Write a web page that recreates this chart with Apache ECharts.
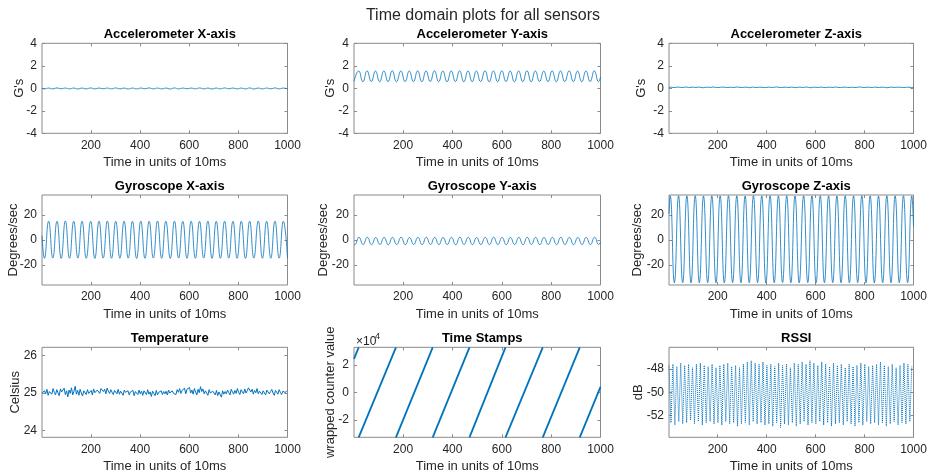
<!DOCTYPE html>
<html>
<head>
<meta charset="utf-8">
<script src="https://cdn.jsdelivr.net/npm/echarts@6/dist/echarts.min.js"></script>
<style>html,body{margin:0;padding:0;background:#fff}#c{width:935px;height:476px}</style>
</head>
<body>
<div id="c"></div>
<script>
// ---------------- DATA ----------------
const xTicks = [200, 400, 600, 800, 1000];
const accelTicks = [-4, -2, 0, 2, 4];
const gyroTicks = [-20, 0, 20];
const tempTicks = [24, 25, 26];
const stampTicks = [-20000, 0, 20000];
const rssiTicks = [-52, -50, -48];

const accelX = [[1,-0.01],[11,-0.05],[28,0.02],[45,-0.05],[62,0.03],[79,-0.04],[96,0.02],[113,-0.05],[130,0.02],[147,-0.06],[164,0.02],[181,-0.05],[199,0.03],[216,-0.05],[233,0.02],[250,-0.04],[267,0.02],[284,-0.05],[301,0.03],[318,-0.05],[335,0.02],[352,-0.06],[369,0.02],[386,-0.05],[403,0.02],[420,-0.04],[437,0.03],[454,-0.05],[471,0.02],[488,-0.05],[505,0.02],[523,-0.06],[540,0.03],[557,-0.05],[574,0.02],[591,-0.04],[608,0.02],[625,-0.05],[642,0.03],[659,-0.05],[676,0.02],[693,-0.06],[710,0.02],[727,-0.05],[744,0.03],[761,-0.04],[778,0.02],[795,-0.05],[812,0.02],[829,-0.05],[846,0.03],[863,-0.06],[881,0.02],[898,-0.05],[915,0.02],[932,-0.04],[949,0.03],[966,-0.05],[983,0.02],[1000,-0.05]];

const accelY = [[1,0.62],[3,0.59],[20,1.54],[37,0.58],[54,1.55],[71,0.6],[88,1.53],[105,0.58],[122,1.54],[139,0.59],[156,1.56],[173,0.58],[191,1.54],[208,0.6],[225,1.53],[242,0.59],[259,1.55],[276,0.58],[293,1.54],[310,0.6],[327,1.55],[344,0.59],[361,1.53],[378,0.58],[395,1.54],[412,0.6],[429,1.55],[446,0.58],[463,1.54],[480,0.59],[497,1.53],[514,0.6],[532,1.55],[549,0.58],[566,1.54],[583,0.59],[600,1.55],[617,0.6],[634,1.53],[651,0.58],[668,1.54],[685,0.59],[702,1.56],[719,0.58],[736,1.54],[753,0.6],[770,1.53],[787,0.59],[804,1.55],[821,0.58],[838,1.54],[855,0.6],[873,1.55],[890,0.59],[907,1.53],[924,0.58],[941,1.54],[958,0.6],[975,1.55],[992,0.59],[1000,1.0]];

const accelZ = [0.08,0.10,0.06,0.09,0.11,0.07,0.08,0.12,0.06,0.09,0.10,0.07,0.11,0.08,0.05,0.09,0.10,0.07,0.12,0.08,0.06,0.09,0.11,0.08,0.07,0.10,0.06,0.09,0.12,0.08,0.07,0.10,0.09,0.05,0.11,0.08,0.07,0.10,0.09,0.06,0.08,0.11,0.07,0.09,0.12,0.08,0.06,0.10,0.09,0.07,0.11,0.08,0.06,0.10,0.09,0.07,0.12,0.08,0.05,0.10,0.09,0.07,0.11,0.08,0.06,0.10,0.09,0.07,0.12,0.08,0.06,0.09,0.11,0.07,0.08,0.10,0.06,0.09,0.12,0.08,0.07,0.10,0.09,0.06,0.11,0.08,0.07,0.10,0.09,0.05,0.08,0.11,0.07,0.09,0.10,0.08,0.06,0.10,0.09,0.07,0.09];

const gyroX = [[1,3.5],[11,-14.6],[28,15.1],[45,-14.5],[62,15.0],[79,-14.7],[96,15.2],[113,-14.6],[130,15.0],[147,-14.5],[164,15.1],[181,-14.6],[199,15.0],[216,-14.7],[233,15.1],[250,-14.5],[267,15.2],[284,-14.6],[301,15.0],[318,-14.6],[335,15.1],[352,-14.5],[369,15.0],[386,-14.7],[403,15.1],[420,-14.6],[437,15.0],[454,-14.5],[471,15.2],[488,-14.6],[505,15.0],[523,-14.7],[540,15.1],[557,-14.5],[574,15.0],[591,-14.6],[608,15.1],[625,-14.6],[642,15.0],[659,-14.5],[676,15.2],[693,-14.7],[710,15.0],[727,-14.6],[744,15.1],[761,-14.5],[778,15.0],[795,-14.6],[812,15.1],[829,-14.7],[846,15.0],[863,-14.5],[881,15.2],[898,-14.6],[915,15.0],[932,-14.6],[949,15.1],[966,-14.5],[983,15.0],[1000,-14.6]];

const gyroY = [[1,-3.3],[4,-3.7],[21,2.1],[38,-3.6],[55,2.2],[72,-3.7],[89,2.0],[106,-3.6],[123,2.1],[140,-3.8],[157,2.1],[174,-3.6],[192,2.2],[209,-3.7],[226,2.0],[243,-3.6],[260,2.1],[277,-3.7],[294,2.2],[311,-3.6],[328,2.1],[345,-3.7],[362,2.0],[379,-3.6],[396,2.1],[413,-3.8],[430,2.2],[447,-3.6],[464,2.1],[481,-3.7],[498,2.0],[515,-3.6],[533,2.1],[550,-3.7],[567,2.2],[584,-3.6],[601,2.1],[618,-3.7],[635,2.0],[652,-3.6],[669,2.1],[686,-3.8],[703,2.2],[720,-3.6],[737,2.1],[754,-3.7],[771,2.0],[788,-3.6],[805,2.1],[822,-3.7],[839,2.2],[856,-3.6],[874,2.1],[891,-3.7],[908,2.0],[925,-3.6],[942,2.1],[959,-3.7],[976,2.2],[993,-3.6],[1000,-1.6]];

const gyroZ = [[1,21],[6,35.3],[23,-34.2],[40,35.4],[57,-34.1],[74,35.3],[91,-34.3],[108,35.4],[125,-34.2],[142,35.2],[159,-34.1],[176,35.4],[193,-34.2],[210,35.3],[227,-34.3],[244,35.4],[261,-34.1],[278,35.3],[295,-34.2],[312,35.2],[329,-34.2],[346,35.4],[363,-34.1],[380,35.3],[397,-34.3],[414,35.4],[431,-34.2],[448,35.3],[465,-34.1],[482,35.4],[499,-34.2],[516,35.2],[533,-34.3],[551,35.4],[568,-34.1],[585,35.3],[602,-34.2],[619,35.4],[636,-34.2],[653,35.3],[670,-34.1],[687,35.2],[704,-34.3],[721,35.4],[738,-34.2],[755,35.3],[772,-34.1],[789,35.4],[806,-34.2],[823,35.3],[840,-34.3],[857,35.2],[874,-34.1],[891,35.4],[908,-34.2],[925,35.3],[942,-34.2],[959,35.4],[976,-34.1],[993,35.3],[1000,11]];

const temperature = [
25.00,24.96,25.06,24.98,25.10,24.94,25.04,25.08,24.97,25.12,
25.02,24.95,25.09,25.01,24.93,25.11,25.03,24.98,25.13,24.96,
25.06,24.90,25.08,24.99,25.14,24.95,25.05,25.18,24.97,25.07,
24.94,25.10,25.00,24.92,25.06,25.02,24.96,25.09,24.99,25.04,
25.07,24.95,25.11,25.01,24.97,25.08,25.03,24.99,25.12,25.16,
25.04,25.10,24.98,25.13,25.05,24.99,25.09,25.02,24.96,25.07,
25.03,24.98,25.10,24.97,25.05,25.01,24.94,25.08,25.02,24.98,
25.06,24.95,25.03,24.99,25.07,24.93,25.04,25.00,24.96,25.08,
24.98,25.05,24.94,25.06,25.01,24.96,25.09,24.97,25.03,24.91,
25.05,24.99,24.93,25.07,24.95,25.02,24.97,25.06,24.96,25.04,
24.98,25.05,24.95,25.08,25.00,24.97,25.06,24.99,25.03,24.96,
25.09,25.02,25.12,24.99,25.07,25.04,25.13,24.98,25.10,25.05,
25.15,25.00,25.08,24.97,25.12,25.03,24.95,25.10,25.01,25.17,
25.04,25.11,24.98,25.06,25.02,24.94,25.09,25.00,24.96,25.05,
25.01,24.95,25.07,24.93,25.03,24.99,24.89,25.06,24.97,25.04,
24.98,25.08,25.01,24.95,25.10,25.03,24.97,25.07,24.99,25.12,
25.02,24.96,25.09,25.04,24.98,25.11,25.00,25.06,25.14,25.19,
25.03,25.10,24.97,25.07,25.01,25.12,24.98,25.05,25.09,24.96,
25.06,25.01,24.95,25.08,25.11,24.98,25.04,25.10,25.00,24.94,
25.07,25.03,24.97,25.09,25.02,24.96,25.05,25.10,25.01,25.06];
const tempStep = 5;

// time stamp counter: wraps from 32767 to -32768
const stampWraps = [20, 171, 320, 469, 615, 766, 916];
const stampFirst = 24400;
const stampLast = 3900;
const stampMin = -32768, stampMax = 32767;

const rssiHigh = [-47.7,-47.6,-47.8,-47.5,-47.7,-47.6,-47.9,-47.6,-47.5,-47.7,
-47.8,-47.6,-47.9,-47.7,-47.6,-47.5,-47.8,-47.7,-47.9,-47.6,
-47.4,-47.3,-47.5,-47.6,-47.4,-47.7,-47.6,-47.8,-47.5,-47.7,
-47.6,-47.9,-47.5,-47.6,-47.4,-47.6,-47.3,-47.5,-47.7,-47.4,
-47.6,-47.8,-47.5,-47.7,-47.6,-47.9,-47.6,-47.8,-47.7,-47.5,
-47.6,-47.8,-47.7,-47.6,-47.4,-47.7,-47.8,-47.6,-47.9,-47.7,
-47.5,-47.6,-47.8];
const rssiLow = [-52.6,-52.8,-52.5,-52.7,-52.6,-52.4,-52.7,-52.5,-52.8,-52.6,
-52.5,-52.7,-52.6,-52.8,-52.5,-52.7,-52.6,-52.9,-52.7,-52.6,
-52.8,-52.5,-52.7,-52.6,-52.8,-52.7,-52.9,-52.6,-53.0,-52.7,
-52.8,-52.6,-52.9,-52.7,-52.5,-52.8,-52.6,-52.7,-52.5,-52.8,
-52.6,-52.9,-52.7,-52.6,-52.8,-52.5,-52.7,-52.9,-52.6,-52.8,
-52.5,-52.7,-52.6,-52.8,-52.6,-52.9,-52.7,-52.5,-52.8,-52.6,
-52.7,-52.5];
const rssiHalfPeriod = 8;

// ---------------- BUILD ----------------
const FONT = '"Liberation Sans", Arial, Helvetica, sans-serif';
const TXT = '#262626';
const BOX = '#8a8a8a';
const BLUE = '#0072BD';

const tempData = temperature.map((v, i) => [1 + i * tempStep, v]);
const accelZData = accelZ.map((v, i) => [Math.min(1000, 1 + i * 10), v]);
const rssiData = [];
for (let i = 0; i < rssiHigh.length + rssiLow.length; i++) {
  const v = i % 2 === 0 ? rssiHigh[i / 2] : rssiLow[(i - 1) / 2];
  rssiData.push([1 + i * rssiHalfPeriod, v]);
}
const stampSegs = [];
{
  let prev = [1, stampFirst];
  for (const w of stampWraps) {
    stampSegs.push([prev, [w, stampMax]]);
    prev = [w, stampMin];
  }
  stampSegs.push([prev, [1000, stampLast]]);
}

const colL = [42, 354, 669];
const colW = [245.5, 246.5, 244.5];
const rowT = [43.3, 195, 347.3];
const H = 90;

const panels = [
  {title:'Accelerometer X-axis', yName:"G's", min:-4, max:4, ticks:accelTicks, gap:16, series:[{data:accelX, smooth:true}]},
  {title:'Accelerometer Y-axis', yName:"G's", min:-4, max:4, ticks:accelTicks, gap:17, series:[{data:accelY, smooth:true}]},
  {title:'Accelerometer Z-axis', yName:"G's", min:-4, max:4, ticks:accelTicks, gap:21.5, series:[{data:accelZData}]},
  {title:'Gyroscope X-axis', yName:'Degrees/sec', min:-36, max:36, ticks:gyroTicks, gap:22, series:[{data:gyroX, smooth:true}]},
  {title:'Gyroscope Y-axis', yName:'Degrees/sec', min:-36, max:36, ticks:gyroTicks, gap:24.5, series:[{data:gyroY, smooth:true}]},
  {title:'Gyroscope Z-axis', yName:'Degrees/sec', min:-36, max:36, ticks:gyroTicks, gap:25, series:[{data:gyroZ, smooth:true}]},
  {title:'Temperature', yName:'Celsius', min:23.82, max:26.22, ticks:tempTicks, gap:20, series:[{data:tempData, width:1, color:BLUE}]},
  {title:'Time Stamps', yName:'wrapped counter value', min:stampMin, max:stampMax, ticks:stampTicks, gap:17,
    fmt: v => String(Math.round(v / 10000)), series: stampSegs.map(s => ({data:s, width:1.8, color:BLUE}))},
  {title:'RSSI', yName:'dB', min:-53.85, max:-46.15, ticks:rssiTicks, gap:24, series:[{data:rssiData, width:1, color:BLUE, type:'dotted'}]}
];

const grid = [], xAxis = [], yAxis = [], series = [], title = [];
title.push({text:'Time domain plots for all sensors', left:478, top:3, textAlign:'center',
  textStyle:{fontFamily:FONT, fontSize:16, fontWeight:'normal', color:TXT}});

panels.forEach((p, i) => {
  const r = Math.floor(i / 3), c = i % 3;
  grid.push({left:colL[c], top:rowT[r], width:colW[c], height:H, show:true, borderColor:BOX, borderWidth:1, backgroundColor:'#fff'});
  title.push({text:p.title, left:colL[c] + colW[c] / 2, top:rowT[r] - 20, textAlign:'center',
    textStyle:{fontFamily:FONT, fontSize:13, fontWeight:'bold', color:'#000'}});
  const tick = {show:true, inside:true, length:3, lineStyle:{color:BOX, width:1}};
  xAxis.push({gridIndex:i, type:'value', min:1, max:1000, position:'bottom',
    name:'Time in units of 10ms', nameLocation:'middle', nameGap:23, nameMoveOverlap:false,
    nameTextStyle:{fontFamily:FONT, fontSize:13, color:TXT},
    axisLine:{show:false, onZero:false}, splitLine:{show:false},
    axisTick:Object.assign({customValues:xTicks}, tick),
    axisLabel:{customValues:xTicks, fontFamily:FONT, fontSize:12, color:TXT, margin:6, formatter: v => String(v)}});
  yAxis.push({gridIndex:i, type:'value', min:p.min, max:p.max, position:'left',
    name:p.yName, nameLocation:'middle', nameGap:p.gap, nameRotate:90, nameMoveOverlap:false,
    nameTextStyle:{fontFamily:FONT, fontSize:13, color:TXT},
    axisLine:{show:false, onZero:false}, splitLine:{show:false},
    axisTick:Object.assign({customValues:p.ticks}, tick),
    axisLabel:{customValues:p.ticks, fontFamily:FONT, fontSize:12, color:TXT, margin:5,
      formatter: p.fmt || (v => String(v))}});
  p.series.forEach(s => {
    series.push({type:'line', xAxisIndex:i, yAxisIndex:i, data:s.data, smooth:s.smooth || false,
      showSymbol:false, symbol:'none', silent:true, animation:false, clip:true,
      lineStyle:{color:s.color || BLUE, width:s.width || 0.8, type:s.type || 'solid'}});
  });
});
// mirrored ticks on top and right (box ticks)
panels.forEach((p, i) => {
  const tick = {show:true, inside:true, length:3, lineStyle:{color:BOX, width:1}};
  xAxis.push({gridIndex:i, type:'value', min:1, max:1000, position:'top',
    axisLine:{show:false, onZero:false}, splitLine:{show:false}, axisLabel:{show:false},
    axisTick:Object.assign({customValues:xTicks}, tick)});
  yAxis.push({gridIndex:i, type:'value', min:p.min, max:p.max, position:'right',
    axisLine:{show:false, onZero:false}, splitLine:{show:false}, axisLabel:{show:false},
    axisTick:Object.assign({customValues:p.ticks}, tick)});
});

const chart = echarts.init(document.getElementById('c'), null, {renderer:'canvas'});
chart.setOption({
  backgroundColor:'#fff', animation:false,
  title, grid, xAxis, yAxis, series,
  graphic:[
    {type:'text', left:colL[1] + 2, top:rowT[2] - 12, style:{text:'×10', font:'12px ' + FONT, fill:TXT}},
    {type:'text', left:colL[1] + 21, top:rowT[2] - 15, style:{text:'4', font:'9px ' + FONT, fill:TXT}}
  ]
});
</script>
</body>
</html>
